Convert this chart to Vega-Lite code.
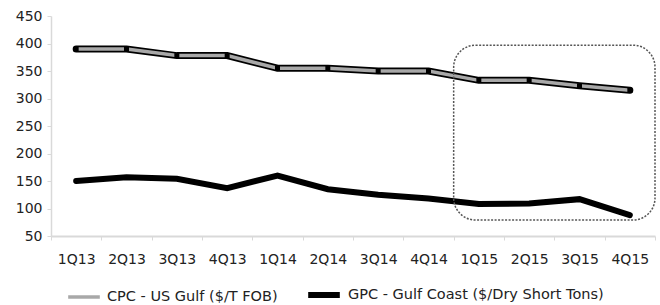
{
  "$schema": "https://vega.github.io/schema/vega-lite/v6.json",
  "width": 604,
  "height": 220,
  "autosize": "none",
  "padding": {"left": 51, "top": 16, "right": 5, "bottom": 69},
  "background": "white",
  "config": {
    "view": {"stroke": null},
    "font": "DejaVu Sans",
    "axis": {"labelFont": "DejaVu Sans", "labelFontSize": 14, "labelColor": "#222", "domainColor": "#d9d9d9", "tickColor": "#d9d9d9", "grid": false, "title": null}
  },
  "datasets": {
    "prices": [
      {"q": "1Q13", "series": "CPC - US Gulf ($/T FOB)", "value": 390},
      {"q": "2Q13", "series": "CPC - US Gulf ($/T FOB)", "value": 390},
      {"q": "3Q13", "series": "CPC - US Gulf ($/T FOB)", "value": 378},
      {"q": "4Q13", "series": "CPC - US Gulf ($/T FOB)", "value": 378},
      {"q": "1Q14", "series": "CPC - US Gulf ($/T FOB)", "value": 355},
      {"q": "2Q14", "series": "CPC - US Gulf ($/T FOB)", "value": 355},
      {"q": "3Q14", "series": "CPC - US Gulf ($/T FOB)", "value": 350},
      {"q": "4Q14", "series": "CPC - US Gulf ($/T FOB)", "value": 350},
      {"q": "1Q15", "series": "CPC - US Gulf ($/T FOB)", "value": 333},
      {"q": "2Q15", "series": "CPC - US Gulf ($/T FOB)", "value": 333},
      {"q": "3Q15", "series": "CPC - US Gulf ($/T FOB)", "value": 323},
      {"q": "4Q15", "series": "CPC - US Gulf ($/T FOB)", "value": 315},
      {"q": "1Q13", "series": "GPC - Gulf Coast ($/Dry Short Tons)", "value": 150},
      {"q": "2Q13", "series": "GPC - Gulf Coast ($/Dry Short Tons)", "value": 157},
      {"q": "3Q13", "series": "GPC - Gulf Coast ($/Dry Short Tons)", "value": 154},
      {"q": "4Q13", "series": "GPC - Gulf Coast ($/Dry Short Tons)", "value": 137},
      {"q": "1Q14", "series": "GPC - Gulf Coast ($/Dry Short Tons)", "value": 160},
      {"q": "2Q14", "series": "GPC - Gulf Coast ($/Dry Short Tons)", "value": 135},
      {"q": "3Q14", "series": "GPC - Gulf Coast ($/Dry Short Tons)", "value": 125},
      {"q": "4Q14", "series": "GPC - Gulf Coast ($/Dry Short Tons)", "value": 118},
      {"q": "1Q15", "series": "GPC - Gulf Coast ($/Dry Short Tons)", "value": 108},
      {"q": "2Q15", "series": "GPC - Gulf Coast ($/Dry Short Tons)", "value": 109},
      {"q": "3Q15", "series": "GPC - Gulf Coast ($/Dry Short Tons)", "value": 117},
      {"q": "4Q15", "series": "GPC - Gulf Coast ($/Dry Short Tons)", "value": 88}
    ],
    "highlight": [
      {"start": "1Q15", "end": "4Q15", "top": 397, "bottom": 79}
    ]
  },
  "data": {"name": "prices"},
  "encoding": {
    "x": {
      "field": "q", "type": "ordinal",
      "scale": {"type": "band", "paddingInner": 0, "paddingOuter": 0, "domain": ["1Q13","2Q13","3Q13","4Q13","1Q14","2Q14","3Q14","4Q14","1Q15","2Q15","3Q15","4Q15"]},
      "axis": {"labelAngle": 0, "tickBand": "extent", "tickSize": 4, "labelPadding": 12, "domainWidth": 2}
    },
    "y": {
      "field": "value", "type": "quantitative",
      "scale": {"domain": [50, 450], "nice": false, "zero": false},
      "axis": {"values": [50,100,150,200,250,300,350,400,450], "tickSize": 4, "labelPadding": 5, "domainWidth": 1.5}
    }
  },
  "layer": [
    {
      "transform": [{"filter": "datum.series == 'CPC - US Gulf ($/T FOB)'"}],
      "mark": {"type": "line", "color": "black", "strokeWidth": 7, "strokeCap": "round", "strokeJoin": "miter"}
    },
    {
      "mark": {"type": "line", "strokeJoin": "miter", "strokeCap": "round"},
      "encoding": {
        "color": {
          "field": "series", "type": "nominal",
          "scale": {"domain": ["CPC - US Gulf ($/T FOB)", "GPC - Gulf Coast ($/Dry Short Tons)"], "range": ["#a8a8a8", "#000000"]},
          "legend": {
            "orient": "none", "legendX": 15, "legendY": 260, "direction": "horizontal", "title": null,
            "symbolType": "stroke", "symbolSize": 1000, "symbolStrokeWidth": 5,
            "labelFont": "DejaVu Sans", "labelFontSize": 14.5, "labelColor": "#222", "labelLimit": 0,
            "labelOffset": 5, "columnPadding": 18
          }
        },
        "strokeWidth": {
          "field": "series", "type": "nominal",
          "scale": {"domain": ["CPC - US Gulf ($/T FOB)", "GPC - Gulf Coast ($/Dry Short Tons)"], "range": [3.5, 6]},
          "legend": null
        }
      }
    },
    {
      "transform": [{"filter": "datum.series == 'CPC - US Gulf ($/T FOB)'"}],
      "mark": {"type": "point", "shape": "square", "filled": true, "color": "black", "size": 25, "opacity": 1}
    },
    {
      "data": {"name": "highlight"},
      "mark": {"type": "rect", "fill": null, "stroke": "#555", "strokeWidth": 1.5, "strokeDash": [2, 1.5], "cornerRadius": 22},
      "encoding": {
        "x": {"field": "start", "type": "ordinal", "bandPosition": 0},
        "x2": {"field": "end", "bandPosition": 1},
        "y": {"field": "top", "type": "quantitative"},
        "y2": {"field": "bottom"}
      }
    }
  ]
}
